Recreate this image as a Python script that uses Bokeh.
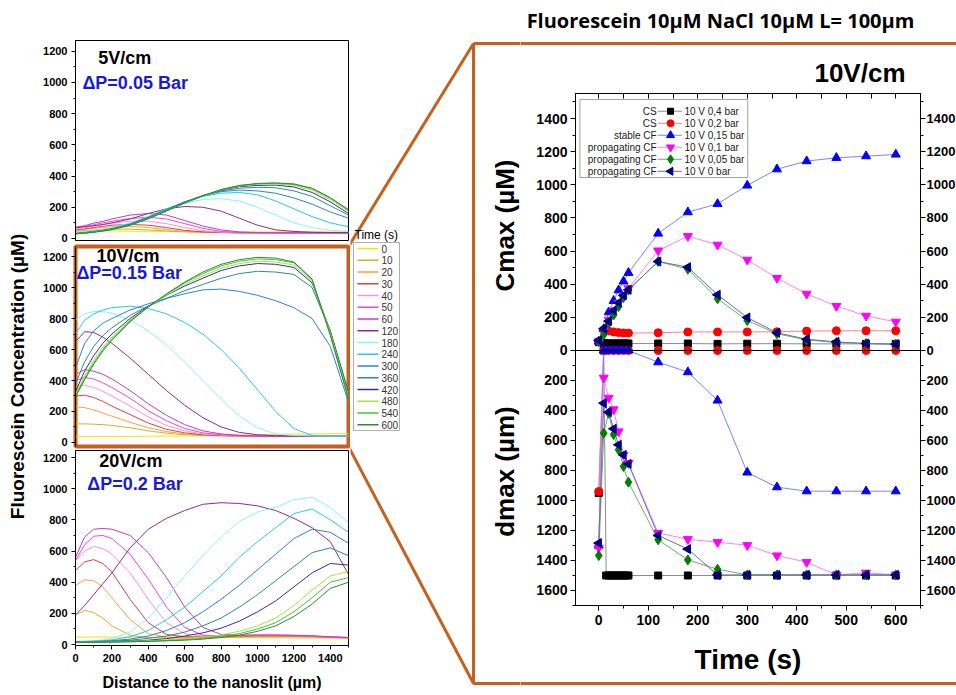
import numpy as np
from bokeh.plotting import figure
from bokeh.layouts import row, column
from bokeh.models import Range1d, LinearAxis, FixedTicker, Label, Span, CustomJSTickFormatter
from bokeh.core.properties import value
from bokeh.embed import file_html
from bokeh.resources import INLINE

FONT = "Liberation Sans"
ORANGE = "#c4611f"

# ---------------- concentration profiles along the channel ----------------
distance = [0, 50, 100, 150, 200, 300, 400, 500, 600, 700, 800, 900, 1000, 1100, 1200, 1300, 1400, 1500]
times = [0, 10, 20, 30, 40, 50, 60, 120, 180, 240, 300, 360, 420, 480, 540, 600]
time_colors = ["#f2e600", "#c9b52c", "#ff9f40", "#e04040", "#ff8fd9", "#f244d6", "#c23ec2", "#8c2d8c",
               "#8af2ff", "#26c9f2", "#2d7fe0", "#2d8c8c", "#3b2d9e", "#a6e632", "#42c442", "#2d8c2d"]

profiles_5v = [
    [48, 48, 48, 48, 48, 47, 46, 45, 44, 43, 42, 42, 42, 42, 42, 42, 42, 42],
    [45, 50, 55, 58, 60, 60, 55, 48, 42, 40, 38, 36, 36, 36, 36, 36, 36, 36],
    [50, 58, 65, 70, 75, 78, 70, 58, 45, 40, 38, 36, 36, 36, 36, 36, 36, 36],
    [55, 62, 70, 78, 85, 90, 85, 70, 52, 42, 38, 36, 36, 36, 36, 36, 36, 36],
    [60, 68, 78, 88, 98, 110, 110, 95, 70, 50, 40, 36, 36, 36, 36, 36, 36, 36],
    [68, 76, 88, 100, 110, 128, 136, 125, 95, 65, 45, 38, 36, 36, 36, 36, 36, 36],
    [72, 82, 98, 110, 125, 150, 160, 150, 115, 80, 55, 42, 38, 36, 36, 36, 36, 36],
    [70, 75, 82, 90, 100, 125, 160, 190, 205, 200, 175, 130, 85, 55, 45, 40, 38, 38],
    [40, 45, 52, 60, 70, 100, 140, 190, 225, 250, 255, 240, 200, 150, 100, 70, 52, 45],
    [35, 40, 47, 55, 65, 95, 140, 190, 235, 270, 290, 295, 280, 240, 190, 140, 100, 75],
    [32, 37, 44, 52, 62, 92, 135, 185, 235, 275, 300, 310, 305, 290, 260, 220, 170, 130],
    [30, 35, 42, 50, 60, 90, 132, 182, 232, 275, 305, 322, 328, 325, 305, 270, 210, 150],
    [30, 35, 42, 50, 60, 88, 130, 180, 230, 275, 310, 332, 340, 342, 330, 295, 235, 160],
    [30, 34, 41, 49, 58, 86, 128, 178, 228, 273, 312, 336, 348, 350, 340, 310, 250, 175],
    [30, 34, 40, 48, 57, 85, 127, 177, 227, 273, 313, 338, 350, 354, 346, 318, 258, 180],
    [30, 34, 40, 48, 57, 85, 126, 176, 227, 273, 314, 340, 353, 356, 350, 322, 262, 185],
]

profiles_10v = [
    [38, 38, 38, 38, 38, 39, 40, 41, 42, 44, 46, 48, 50, 52, 54, 55, 56, 57],
    [120, 120, 118, 115, 110, 95, 75, 60, 50, 45, 42, 40, 40, 40, 40, 40, 40, 40],
    [230, 225, 210, 190, 170, 130, 95, 70, 55, 48, 44, 42, 40, 40, 40, 40, 40, 40],
    [300, 305, 290, 265, 235, 180, 125, 85, 62, 50, 45, 42, 40, 40, 40, 40, 40, 40],
    [360, 370, 355, 330, 300, 235, 165, 110, 75, 55, 47, 43, 40, 40, 40, 40, 40, 40],
    [400, 420, 410, 385, 355, 285, 205, 140, 90, 62, 50, 44, 40, 40, 40, 40, 40, 40],
    [440, 470, 460, 440, 410, 335, 250, 175, 115, 75, 55, 46, 42, 40, 40, 40, 40, 40],
    [650, 715, 710, 680, 640, 545, 440, 335, 240, 160, 100, 65, 50, 44, 42, 40, 40, 40],
    [790, 830, 845, 845, 835, 790, 720, 630, 520, 400, 280, 170, 95, 55, 45, 42, 40, 40],
    [700, 790, 830, 855, 870, 880, 865, 830, 775, 700, 600, 480, 340, 200, 90, 45, 40, 40],
    [480, 640, 720, 770, 800, 855, 895, 930, 960, 985, 990, 975, 950, 915, 870, 800, 620, 260],
    [380, 520, 620, 690, 740, 820, 880, 930, 980, 1020, 1060, 1090, 1105, 1100, 1085, 1000, 720, 330],
    [330, 460, 560, 640, 700, 800, 880, 950, 1010, 1060, 1110, 1140, 1155, 1150, 1130, 1030, 720, 310],
    [310, 430, 530, 615, 680, 790, 875, 950, 1020, 1075, 1125, 1155, 1170, 1165, 1145, 1040, 710, 300],
    [300, 415, 515, 600, 670, 785, 875, 955, 1030, 1090, 1140, 1170, 1185, 1180, 1160, 1050, 700, 290],
    [295, 405, 505, 590, 660, 780, 875, 960, 1035, 1100, 1150, 1180, 1195, 1190, 1165, 1055, 690, 280],
]

profiles_20v = [
    [48, 48, 48, 48, 48, 48, 47, 47, 46, 46, 45, 45, 44, 44, 43, 42, 41, 40],
    [190, 220, 205, 170, 120, 60, 45, 42, 42, 44, 46, 48, 50, 50, 50, 48, 45, 42],
    [380, 415, 410, 370, 300, 160, 70, 48, 45, 46, 48, 50, 52, 52, 52, 50, 46, 42],
    [475, 530, 545, 520, 465, 290, 140, 65, 50, 50, 52, 55, 56, 56, 55, 52, 48, 44],
    [540, 600, 630, 615, 580, 460, 290, 140, 70, 55, 55, 57, 58, 58, 57, 54, 50, 45],
    [540, 640, 695, 700, 680, 580, 420, 240, 110, 60, 56, 58, 60, 60, 58, 55, 50, 45],
    [560, 690, 740, 745, 740, 700, 590, 430, 240, 110, 65, 60, 62, 62, 60, 56, 50, 45],
    [190, 250, 320, 390, 460, 620, 740, 810, 860, 900, 910, 905, 890, 860, 810, 750, 660, 450],
    [20, 22, 25, 30, 40, 80, 170, 300, 440, 570, 690, 790, 850, 880, 930, 945, 880, 780],
    [20, 20, 22, 25, 30, 50, 90, 160, 240, 340, 440, 560, 660, 750, 840, 870, 800, 720],
    [18, 18, 20, 22, 25, 35, 55, 90, 140, 210, 290, 380, 480, 580, 680, 740, 720, 650],
    [18, 18, 18, 20, 22, 28, 40, 55, 80, 120, 170, 240, 320, 410, 500, 590, 620, 570],
    [15, 15, 16, 17, 18, 22, 28, 38, 55, 75, 105, 150, 210, 280, 370, 460, 520, 510],
    [15, 15, 15, 16, 17, 20, 24, 30, 38, 48, 62, 85, 120, 170, 250, 350, 440, 470],
    [15, 15, 15, 15, 16, 18, 22, 26, 32, 40, 52, 70, 100, 140, 210, 300, 400, 430],
    [15, 15, 15, 15, 16, 18, 20, 24, 28, 35, 45, 60, 85, 120, 180, 260, 360, 400],
]

# ---------------- Cmax / dmax versus time at 10 V/cm ----------------
regimes = ["CS", "CS", "stable CF", "propagating CF", "propagating CF", "propagating CF"]
conditions = ["10 V 0,4 bar", "10 V 0,2 bar", "10 V 0,15 bar", "10 V 0,1 bar", "10 V 0,05 bar", "10 V 0 bar"]

t_04 = [0, 10, 15, 20, 25, 30, 35, 40, 45, 50, 55, 60, 120, 180, 240, 300, 360, 420, 480, 540, 600]
cmax_04 = [50, 45, 42, 42, 42, 42, 42, 42, 42, 42, 42, 42, 42, 42, 40, 41, 41, 40, 40, 40, 40]
dmax_04 = [950, 0, 1500, 1500, 1500, 1500, 1500, 1500, 1500, 1500, 1500, 1500, 1500, 1500, 1500, 1500,
           1500, 1500, 1500, 1500, 1500]

t_std = [0, 10, 20, 30, 40, 50, 60, 120, 180, 240, 300, 360, 420, 480, 540, 600]
cmax_02 = [55, 125, 118, 112, 108, 106, 105, 107, 112, 112, 112, 113, 117, 119, 119, 119]
dmax_02 = [940, 0, 0, 0, 0, 0, 0, 0, 0, 0, 0, 0, 0, 0, 0, 0]
cmax_015 = [55, 130, 231, 300, 364, 417, 469, 706, 835, 885, 996, 1094, 1143, 1163, 1173, 1183]
dmax_015 = [1300, 0, 0, 0, 0, 0, 0, 78, 144, 333, 813, 911, 938, 938, 938, 938]
cmax_01 = [55, 120, 185, 241, 286, 330, 375, 603, 690, 638, 547, 437, 342, 268, 209, 173]
dmax_01 = [1316, 182, 316, 393, 540, 696, 751, 1216, 1258, 1278, 1298, 1367, 1411, 1496, 1482, 1496]
cmax_005 = [55, 95, 165, 214, 265, 320, 366, 537, 491, 312, 181, 101, 64, 48, 42, 38]
dmax_005 = [1367, 551, 418, 560, 662, 773, 878, 1262, 1396, 1458, 1496, 1496, 1496, 1496, 1496, 1496]
cmax_0 = [60, 131, 177, 241, 288, 332, 366, 537, 503, 336, 199, 107, 68, 52, 42, 38]
dmax_0 = [1284, 351, 411, 522, 629, 696, 756, 1233, 1324, 1496, 1496, 1496, 1496, 1496, 1496, 1496]

series_t = [t_04, t_std, t_std, t_std, t_std, t_std]
series_cmax = [cmax_04, cmax_02, cmax_015, cmax_01, cmax_005, cmax_0]
series_dmax = [dmax_04, dmax_02, dmax_015, dmax_01, dmax_005, dmax_0]
marker_colors = ["#000000", "#ff0000", "#0000ff", "#ff00ff", "#008000", "#000080"]
line_colors = ["#8c8c8c", "#ff8080", "#8080ff", "#ff80ff", "#66b366", "#6b6bb3"]
markers = ["square", "circle", "triangle", "inverted_triangle", "diamond", "triangle"]
marker_angles = [0, 0, 0, 0, 0, np.pi / 2]
marker_sizes = [7, 8, 9, 9, 10, 9]


def no_frame_align(p):
    if "frame_align" in p.properties():
        p.frame_align = False


def style_axis(ax, size, ticks, minor, tick_out=4, minor_out=2, standoff=4):
    ax.ticker = FixedTicker(ticks=ticks, minor_ticks=minor)
    ax.major_label_text_font = FONT
    ax.major_label_text_font_style = "bold"
    ax.major_label_text_font_size = size
    ax.major_label_text_color = "black"
    ax.axis_line_color = "black"
    ax.major_tick_line_color = "black"
    ax.minor_tick_line_color = "black"
    ax.major_tick_out = tick_out
    ax.major_tick_in = 0
    ax.minor_tick_out = minor_out
    ax.minor_tick_in = 0
    ax.major_label_standoff = standoff


def deco_figure(width, height, x0, y0):
    """Blank figure whose data space is the page's pixel space (y downwards)."""
    p = figure(width=width, height=height, x_range=Range1d(x0, x0 + width),
               y_range=Range1d(y0 + height, y0), x_axis_location=None, y_axis_location=None,
               min_border=0, toolbar_location=None, tools="", output_backend="svg")
    p.grid.visible = False
    p.outline_line_color = None
    no_frame_align(p)
    return p


def draw_zoom_frame(p):
    # orange box round the 10 V/cm panel and its two connectors
    p.multi_line(xs=[[473, 970, 970, 473, 473], [348, 473], [348, 473]],
                 ys=[[43, 43, 683, 683, 43], [246, 43], [446, 683]],
                 line_color=ORANGE, line_width=3)


def bold_label(**kw):
    kw.setdefault("text_color", "black")
    return Label(text_font=FONT, text_font_style="bold", **kw)


def profile_panel(height, yr, b_top, b_bottom, profiles, outline_color, outline_width, x_axis,
                  field, pressure, field_pos, pressure_pos):
    p = figure(width=320, height=height, x_range=Range1d(0, 1500), y_range=Range1d(*yr),
               x_axis_location="below" if x_axis else None, y_axis_location="left",
               min_border_left=45, min_border_right=2, min_border_top=b_top, min_border_bottom=b_bottom,
               toolbar_location=None, tools="", output_backend="svg")
    p.grid.visible = False
    p.outline_line_color = outline_color
    p.outline_line_width = outline_width
    p.outline_line_alpha = 1
    style_axis(p.yaxis, "11px", list(range(0, 1201, 200)), list(range(100, 1301, 200)))
    if x_axis:
        style_axis(p.xaxis, "11px", list(range(0, 1401, 200)), list(range(100, 1501, 200)))
    for vals, col in zip(profiles, time_colors):
        p.line(distance, vals, line_color=col, line_width=1)
    p.add_layout(bold_label(x=field_pos[0], y=field_pos[1], text=field, text_font_size="18px",
                            text_baseline="middle"))
    p.add_layout(bold_label(x=pressure_pos[0], y=pressure_pos[1], text=pressure, text_font_size="18px",
                            text_color="#1a1ad6", text_baseline="middle"))
    return p


# ---------------- left column: three profile panels ----------------
top_p = profile_panel(244, (-13, 1269), 40, 4, profiles_5v, "black", 1, False,
                      "5V/cm", "\u0394P=0.05 Bar", (125, 1160), (38, 994))
mid_p = profile_panel(206, (-26, 1265), 2, 4, profiles_10v, ORANGE, 4, False,
                      "10V/cm", "\u0394P=0.15 Bar", (115, 1206), (5, 1097))
bot_p = profile_panel(245, (-6, 1245), 0, 50, profiles_20v, "black", 1, True,
                      "20V/cm", "\u0394P=0.2 Bar", (131, 1175), (65, 1027))
bot_p.xaxis.axis_label = "Distance to the nanoslit (\u00b5m)"
bot_p.xaxis.axis_label_text_font = FONT
bot_p.xaxis.axis_label_text_font_style = "bold"
bot_p.xaxis.axis_label_text_font_size = "16px"
bot_p.xaxis.axis_label_text_color = "black"
bot_p.xaxis.axis_label_standoff = 9

ylab_p = deco_figure(30, 695, 0, 0)
ylab_p.add_layout(bold_label(x=17, y=376, text="Fluorescein Concentration (\u00b5M)", angle=np.pi / 2,
                             text_font_size="19px", text_align="center", text_baseline="middle"))

# ---------------- gap: legend of times, connectors, right-hand axis titles ----------------
gap_p = deco_figure(170, 695, 350, 0)
draw_zoom_frame(gap_p)
row_y = [248 + 11.75 * i for i in range(len(times))]
gap_p.quad(left=353, right=399, top=242, bottom=430, fill_color="white", line_color="#b0b0b0", line_width=1)
gap_p.text(x=[354], y=[234], text=["Time (s)"], text_font=value(FONT), text_font_size=value("12px"),
           text_baseline="middle", text_color="black")
gap_p.multi_line(xs=[[357, 378]] * len(times), ys=[[y, y] for y in row_y], line_color=time_colors,
                 line_width=1.5)
gap_p.text(x=[381] * len(times), y=row_y, text=[str(t) for t in times], text_font=value(FONT),
           text_font_size=value("10px"), text_baseline="middle", text_color="#333333")
gap_p.add_layout(bold_label(x=504, y=225, text="Cmax (\u00b5M)", angle=np.pi / 2, text_font_size="26px",
                            text_align="center", text_baseline="middle"))
gap_p.add_layout(bold_label(x=504, y=471, text="dmax (\u00b5m)", angle=np.pi / 2, text_font_size="26px",
                            text_align="center", text_baseline="middle"))

# ---------------- right column: title, Cmax/dmax panel, footer ----------------
title_p = deco_figure(444, 90, 520, 0)
draw_zoom_frame(title_p)
title_p.text(x=[720], y=[20], text=["Fluorescein 10\u00b5M NaCl 10\u00b5M L= 100\u00b5m"],
             text_font=value("Open Sans"), text_font_style="bold", text_font_size=value("20px"),
             text_align="center", text_baseline="middle", text_color="black")
title_p.text(x=[905], y=[72], text=["10V/cm"], text_font=value(FONT), text_font_style="bold",
             text_font_size=value("26px"), text_align="right", text_baseline="middle", text_color="black")

foot_p = deco_figure(444, 14, 520, 681)
draw_zoom_frame(foot_p)

t_lo, t_hi = -47, 650
c_lo, c_hi = -1539, 1551
d_lo = 1700
d_hi = -d_lo * c_hi / (-c_lo)   # keeps the Cmax and dmax zero lines at the same height

rp = figure(width=444, height=591, x_range=Range1d(t_lo, t_hi), y_range=Range1d(c_lo, c_hi),
            x_axis_location=None, y_axis_location=None,
            min_border_left=55, min_border_right=44, min_border_top=3, min_border_bottom=76,
            toolbar_location=None, tools="", output_backend="svg")
rp.extra_y_ranges = {"d": Range1d(d_lo, d_hi)}
rp.grid.visible = False
rp.outline_line_color = "black"
rp.outline_line_width = 1


def c_of_d(d):
    return c_lo + (d - d_lo) * (c_hi - c_lo) / (d_hi - d_lo)


c_ticks = list(range(0, 1401, 200))
d_ticks = list(range(200, 1601, 200))
y_ticks = c_ticks + [c_of_d(d) for d in d_ticks]
y_minor = list(range(100, 1501, 200)) + [c_of_d(d) for d in range(100, 1701, 200)]
y_fmt = CustomJSTickFormatter(args=dict(c0=c_lo, c1=c_hi, d0=d_lo, d1=d_hi), code="""
    if (tick >= -1e-6) { return Math.round(tick).toString(); }
    const d = d0 + (tick - c0) * (d1 - d0) / (c1 - c0);
    return Math.round(d).toString();
""")
left_ax = LinearAxis(formatter=y_fmt)
style_axis(left_ax, "14px", y_ticks, y_minor, tick_out=5, minor_out=3, standoff=3)
rp.add_layout(left_ax, "left")
right_ax = LinearAxis(formatter=y_fmt)
style_axis(right_ax, "13px", y_ticks, y_minor, tick_out=5, minor_out=3, standoff=1)
rp.add_layout(right_ax, "right")

bx = LinearAxis(axis_label="Time (s)")
style_axis(bx, "14px", list(range(0, 601, 100)), list(range(50, 651, 100)), tick_out=5, minor_out=3, standoff=4)
bx.axis_label_text_font = FONT
bx.axis_label_text_font_style = "bold"
bx.axis_label_text_font_size = "28px"
bx.axis_label_text_color = "black"
bx.axis_label_standoff = 16
rp.add_layout(bx, "below")

tx = LinearAxis()
style_axis(tx, "0px", list(range(-50, 651, 50)), [], tick_out=0, minor_out=0, standoff=0)
tx.major_tick_in = 5
tx.major_label_text_alpha = 0
rp.add_layout(tx, "above")

rp.add_layout(Span(location=0, dimension="width", line_color="black", line_width=1))

for t, cm, dm, lc in zip(series_t, series_cmax, series_dmax, line_colors):
    rp.line(t, cm, line_color=lc, line_width=1)
    rp.line(t, dm, line_color=lc, line_width=1, y_range_name="d")
for t, cm, dm, mc, mk, ang, sz in zip(series_t, series_cmax, series_dmax, marker_colors,
                                      markers, marker_angles, marker_sizes):
    rp.scatter(t, cm, marker=mk, angle=ang, size=sz, fill_color=mc, line_color=mc)
    rp.scatter(t, dm, marker=mk, angle=ang, size=sz, fill_color=mc, line_color=mc, y_range_name="d")

# legend of the six pressure conditions
leg_y = [1444 - 72.5 * i for i in range(len(conditions))]
rp.quad(left=-38, right=301, top=1515, bottom=1044, fill_color="white", line_color="#a0a0a0", line_width=1)
rp.multi_line(xs=[[119, 168]] * len(conditions), ys=[[y, y] for y in leg_y], line_color=line_colors,
              line_width=1)
for y, mc, mk, ang, sz in zip(leg_y, marker_colors, markers, marker_angles, marker_sizes):
    rp.scatter([145], [y], marker=mk, angle=ang, size=sz - 1, fill_color=mc, line_color=mc)
rp.text(x=[117] * len(regimes), y=leg_y, text=regimes, text_font=value(FONT),
        text_font_size=value("10px"), text_align="right", text_baseline="middle", text_color="#222222")
rp.text(x=[173] * len(conditions), y=leg_y, text=conditions, text_font=value(FONT),
        text_font_size=value("10px"), text_align="left", text_baseline="middle", text_color="#222222")

layout = row(ylab_p, column(top_p, mid_p, bot_p), gap_p, column(title_p, rp, foot_p))
try:
    from bokeh.models import GlobalInlineStyleSheet
    layout.stylesheets = [GlobalInlineStyleSheet(css="html, body { margin: 0; overflow: hidden; }")]
except ImportError:
    pass

open("out.html", "w").write(file_html(layout, INLINE))
